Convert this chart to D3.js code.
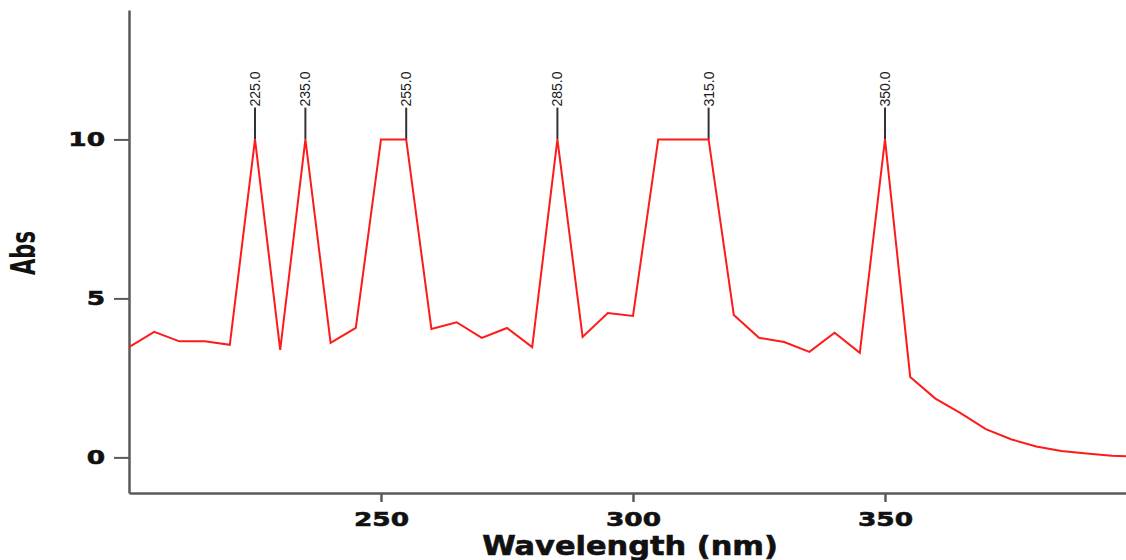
<!DOCTYPE html>
<html>
<head>
<meta charset="utf-8">
<script src="https://cdn.jsdelivr.net/npm/d3@7/dist/d3.min.js"></script>
<style>
  html, body { margin: 0; padding: 0; background: #fff; }
  svg { display: block; }
</style>
</head>
<body>
<svg id="chart" width="1126" height="560"></svg>
<script>
// ---- data ----
const wavelengths = [200,205,210,215,220,225,230,235,240,245,250,255,260,265,270,275,280,285,290,295,300,305,310,315,320,325,330,335,340,345,350,355,360,365,370,375,380,385,390,395,400];
const absValues   = [3.47,3.95,3.65,3.65,3.54,10,3.38,10,3.6,4.07,10,10,4.04,4.25,3.76,4.07,3.47,10,3.79,4.54,4.45,10,10,10,4.48,3.76,3.63,3.32,3.92,3.29,10,2.53,1.85,1.39,0.89,0.57,0.34,0.2,0.12,0.05,0.02];
const peakWavelengths = [225,235,255,285,315,350];
const peakLabels = ["225.0","235.0","255.0","285.0","315.0","350.0"];
const xTickValues = [250,300,350];
const yTickValues = [0,5,10];
const xTitle = "Wavelength (nm)";
const yTitle = "Abs";

// ---- layout ----
const svg = d3.select("#chart");
const x = d3.scaleLinear().domain([200, 400]).range([129, 1137]);
const y = d3.scaleLinear().domain([-1.12, 14.07]).range([493, 10]);

const axisColor = "#5a5a5a";
const tickFont = "'DejaVu Sans', sans-serif";

// x axis
const gx = svg.append("g").attr("transform", "translate(0,493)")
  .call(d3.axisBottom(x).tickValues(xTickValues).tickSizeInner(9).tickSizeOuter(0).tickPadding(10).tickFormat(d3.format("d")));
gx.select(".domain").attr("stroke", axisColor).attr("stroke-width", 2.5);
gx.selectAll(".tick line").attr("stroke", axisColor).attr("stroke-width", 2.5);
gx.selectAll(".tick text")
  .attr("font-family", tickFont).attr("font-weight", "bold").attr("font-size", 20)
  .attr("fill", "#111").attr("stroke", "#111").attr("stroke-width", 0.6)
  .attr("transform", "scale(1.32,1)");

// y axis
const gy = svg.append("g").attr("transform", "translate(129,0)")
  .call(d3.axisLeft(y).tickValues(yTickValues).tickSizeInner(15).tickSizeOuter(0).tickPadding(7).tickFormat(d3.format("d")));
gy.select(".domain").attr("stroke", axisColor).attr("stroke-width", 2.5);
gy.selectAll(".tick line").attr("stroke", axisColor).attr("stroke-width", 2);
gy.selectAll(".tick text")
  .attr("font-family", tickFont).attr("font-weight", "bold").attr("font-size", 20)
  .attr("fill", "#111").attr("stroke", "#111").attr("stroke-width", 0.6)
  .attr("x", -24 / 1.32).attr("transform", "scale(1.32,1)");

// clip region
svg.append("clipPath").attr("id", "plotclip")
  .append("rect").attr("x", 129).attr("y", 0).attr("width", 1126 - 129).attr("height", 493);

// peak leader lines
const peaks = peakWavelengths.map((w, i) => ({ w, label: peakLabels[i] }));
svg.append("g").selectAll("line").data(peaks).join("line")
  .attr("x1", d => x(d.w)).attr("x2", d => x(d.w))
  .attr("y1", y(10)).attr("y2", y(11))
  .attr("stroke", "#333").attr("stroke-width", 2);

svg.append("g").selectAll("text").data(peaks).join("text")
  .attr("transform", d => `translate(${x(d.w)},${y(11) - 1}) rotate(-90)`)
  .attr("dy", "0.36em")
  .attr("text-anchor", "start")
  .attr("font-family", "'Liberation Sans', Arial, sans-serif")
  .attr("font-size", 14)
  .attr("fill", "#1a1a1a")
  .text(d => d.label);

// spectrum line
const line = d3.line().x((d, i) => x(wavelengths[i])).y(d => y(d));
svg.append("path").datum(absValues)
  .attr("clip-path", "url(#plotclip)")
  .attr("d", line)
  .attr("fill", "none").attr("stroke", "#ff1a1a").attr("stroke-width", 2)
  .attr("stroke-linejoin", "miter");

// axis titles
svg.append("text")
  .attr("transform", "translate(630,555) scale(1.17,1)")
  .attr("text-anchor", "middle")
  .attr("font-family", tickFont).attr("font-weight", "bold").attr("font-size", 26)
  .attr("fill", "#111").attr("stroke", "#111").attr("stroke-width", 0.6)
  .text(xTitle);

svg.append("text")
  .attr("transform", "translate(35,253) rotate(-90) scale(1,1.6)")
  .attr("text-anchor", "middle")
  .attr("font-family", tickFont).attr("font-weight", "bold").attr("font-size", 21)
  .attr("fill", "#111")
  .text(yTitle);
</script>
</body>
</html>
